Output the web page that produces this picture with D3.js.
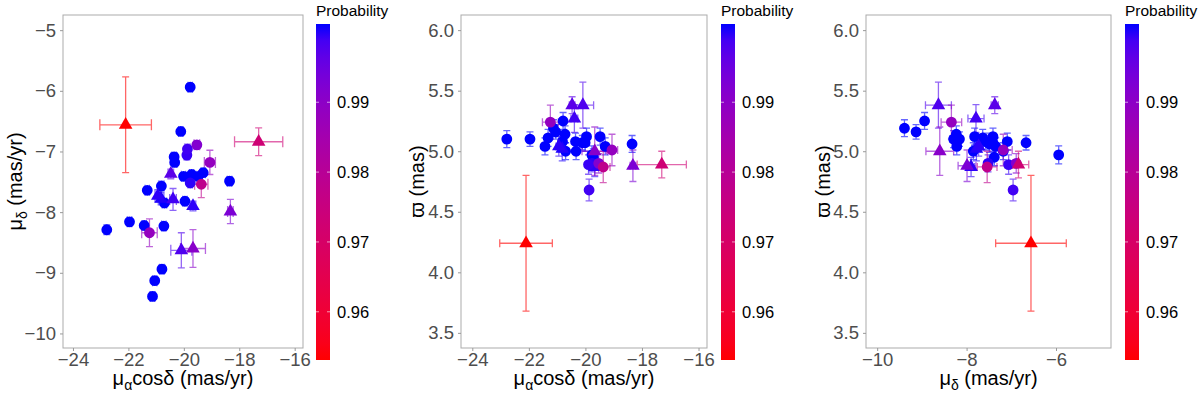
<!DOCTYPE html>
<html>
<head>
<meta charset="utf-8">
<script src="https://cdn.jsdelivr.net/npm/d3@7"></script>
<style>
  body { margin: 0; background: #fff; }
  text { font-family: "Liberation Sans", Arial, Helvetica, sans-serif; }
</style>
</head>
<body>
<svg width="1200" height="395"></svg>
<script>
// star values (same stars in all three panels)
const pmra     = [-19.77,-20.11,-19.53,-19.87,-19.89,-20.35,-20.33,-19.06,-20.47,-20.01,-19.72,-19.48,-19.30,-19.77,-19.37,-18.35,-21.32,-20.81,-20.94,-20.82,-20.70,-20.39,-19.96,-19.67,-18.32,-22.78,-21.96,-21.43,-21.24,-20.72,-20.09,-19.67,-20.79,-21.05,-21.13,-22.10,-17.30];
const pmraErr  = [0.08,0.08,0.10,0.08,0.08,0.08,0.08,0.20,0.10,0.08,0.08,0.08,0.08,0.08,0.24,0.08,0.08,0.08,0.10,0.10,0.08,0.12,0.08,0.10,0.10,0.08,0.08,0.08,0.28,0.08,0.38,0.45,0.08,0.08,0.08,0.93,0.87];
const pmdec    = [-5.94,-6.67,-6.89,-6.96,-7.06,-7.09,-7.18,-7.18,-7.37,-7.41,-7.38,-7.41,-7.35,-7.52,-7.54,-7.49,-7.64,-7.57,-7.73,-7.78,-7.85,-7.79,-7.82,-7.90,-7.99,-8.29,-8.16,-8.22,-8.34,-8.23,-8.63,-8.60,-8.94,-9.13,-9.39,-6.56,-6.84];
const pmdecErr = [0.06,0.06,0.07,0.08,0.08,0.07,0.07,0.20,0.08,0.06,0.06,0.06,0.06,0.06,0.22,0.07,0.06,0.08,0.10,0.10,0.06,0.18,0.06,0.08,0.20,0.08,0.06,0.06,0.23,0.06,0.29,0.31,0.07,0.06,0.07,0.79,0.23];
const plx      = [4.97,5.07,4.90,4.68,4.89,5.08,5.00,5.01,5.38,5.07,4.95,5.12,5.04,4.90,4.87,5.06,5.11,5.08,5.04,5.02,5.00,5.27,5.12,4.87,4.88,5.10,5.10,5.04,5.24,5.14,5.38,5.00,5.25,5.16,5.19,4.24,4.89];
const plxErr   = [0.075,0.06,0.08,0.09,0.08,0.07,0.07,0.13,0.07,0.07,0.07,0.07,0.07,0.07,0.13,0.07,0.07,0.07,0.08,0.10,0.07,0.115,0.07,0.08,0.13,0.07,0.06,0.07,0.14,0.07,0.19,0.20,0.07,0.06,0.07,0.56,0.11];
const prob     = [1.0,1.0,0.991,0.998,0.9985,1.0,1.0,0.988,0.996,1.0,1.0,1.0,1.0,0.999,0.978,1.0,1.0,1.0,0.999,0.9995,1.0,0.998,1.0,0.999,0.992,1.0,1.0,1.0,0.988,1.0,0.997,0.990,1.0,1.0,1.0,0.9543,0.973];
const shape    = ["o","o","o","o","o","o","o","o","^","o","o","o","o","o","o","o","o","o","^","^","o","^","o","^","^","o","o","o","o","o","^","^","o","o","o","^","^"];

const probTicks = [0.96, 0.97, 0.98, 0.99];
const pmraTicks = [-24, -22, -20, -18, -16];
const pmdecTicks = [-10, -9, -8, -7, -6, -5];
const pmdecTicksX = [-10, -8, -6];
const plxTicks = [3.5, 4.0, 4.5, 5.0, 5.5, 6.0];

const probMin = 0.9543, probMax = 1.0;

const stars = pmra.map((d, i) => ({
  pmra: d, pmraErr: pmraErr[i],
  pmdec: pmdec[i], pmdecErr: pmdecErr[i],
  plx: plx[i], plxErr: plxErr[i],
  prob: prob[i], shape: shape[i]
})).sort((a, b) => b.prob - a.prob);

const color = d3.scaleLinear()
  .domain([probMin, probMax])
  .range(["#ff0000", "#0000ff"])
  .interpolate(d3.interpolateLab);

const svg = d3.select("svg");
const plotTop = 15, plotBottom = 348;
const barTop = 24, barBottom = 360;

const panels = [
  { x: "pmra", y: "pmdec", left: 63, right: 303, xDom: [-24.36, -15.7], yDom: [-10.24, -4.75],
    xTicks: pmraTicks, yTicks: pmdecTicks, yFmt: d3.format("d"), xTitle: "pmra", yTitle: "pmdec",
    yTitleX: 15, cbX: 316, capV: 7, capH: 11 },
  { x: "pmra", y: "plx", left: 461, right: 707, xDom: [-24.4, -15.7], yDom: [3.375, 6.125],
    xTicks: pmraTicks, yTicks: plxTicks, yFmt: d3.format(".1f"), xTitle: "pmra", yTitle: "plx",
    yTitleX: 417, cbX: 721, capV: 7, capH: 8 },
  { x: "pmdec", y: "plx", left: 866, right: 1111, xDom: [-10.25, -4.77], yDom: [3.375, 6.125],
    xTicks: pmdecTicksX, yTicks: plxTicks, yFmt: d3.format(".1f"), xTitle: "pmdec", yTitle: "plx",
    yTitleX: 823, cbX: 1125, capV: 7, capH: 8 }
];

// axis titles with greek subscripts
function title(sel, kind) {
  if (kind === "pmra") {
    sel.append("tspan").text("μ");
    sel.append("tspan").attr("font-size", 14).attr("dy", 5).text("α");
    sel.append("tspan").attr("dy", -5).text("cosδ (mas/yr)");
  } else if (kind === "pmdec") {
    sel.append("tspan").text("μ");
    sel.append("tspan").attr("font-size", 14).attr("dy", 5).text("δ");
    sel.append("tspan").attr("dy", -5).text(" (mas/yr)");
  } else {
    sel.text("ϖ (mas)");
  }
}

// bar covers the limits, ticks sit half a bin in from each end (20 bins)
const halfBin = (barBottom - barTop) / 40;
const cbY = d3.scaleLinear().domain([probMin, probMax]).range([barBottom - halfBin, barTop + halfBin]);

const defs = svg.append("defs");
const grad = defs.append("linearGradient").attr("id", "probGrad")
  .attr("x1", 0).attr("y1", 1).attr("x2", 0).attr("y2", 0);
d3.range(0, 1.0001, 0.05).forEach(t => {
  grad.append("stop").attr("offset", t)
    .attr("stop-color", color(probMin + t * (probMax - probMin)));
});

panels.forEach(p => {
  const x = d3.scaleLinear().domain(p.xDom).range([p.left, p.right]);
  const y = d3.scaleLinear().domain(p.yDom).range([plotBottom, plotTop]);
  const g = svg.append("g");

  g.append("rect")
    .attr("x", p.left).attr("y", plotTop)
    .attr("width", p.right - p.left).attr("height", plotBottom - plotTop)
    .attr("fill", "#fff").attr("stroke", "#ababab").attr("stroke-width", 1);

  const xAxis = g.append("g").attr("transform", `translate(0,${plotBottom})`)
    .call(d3.axisBottom(x).tickValues(p.xTicks).tickFormat(d3.format("d")).tickSize(3).tickPadding(2));
  const yAxis = g.append("g").attr("transform", `translate(${p.left},0)`)
    .call(d3.axisLeft(y).tickValues(p.yTicks).tickFormat(p.yFmt).tickSize(3).tickPadding(4));
  [xAxis, yAxis].forEach(a => {
    a.select(".domain").remove();
    a.selectAll(".tick line").attr("stroke", "#999");
    a.selectAll(".tick text").attr("fill", "#4d4d4d").attr("font-size", 18.5)
      .attr("font-family", "'Liberation Sans', Arial, sans-serif");
  });

  g.append("text")
    .attr("x", (p.left + p.right) / 2).attr("y", 385)
    .attr("text-anchor", "middle").attr("font-size", 20).attr("fill", "#000")
    .call(title, p.xTitle);
  g.append("text")
    .attr("transform", `translate(${p.yTitleX},${(plotTop + plotBottom) / 2}) rotate(-90)`)
    .attr("dy", "0.35em")
    .attr("text-anchor", "middle").attr("font-size", 20).attr("fill", "#000")
    .call(title, p.yTitle);

  // error bars
  const eb = g.append("g").attr("fill", "none").attr("stroke-width", 1.3).attr("stroke-opacity", 0.6);
  stars.forEach(d => {
    const cx = x(d[p.x]), cy = y(d[p.y]);
    const ex = d[p.x + "Err"], ey = d[p.y + "Err"];
    const y0 = y(d[p.y] - ey), y1 = y(d[p.y] + ey);
    const x0 = x(d[p.x] - ex), x1 = x(d[p.x] + ex);
    const path = d3.path();
    path.moveTo(cx, y0); path.lineTo(cx, y1);
    path.moveTo(cx - p.capV / 2, y0); path.lineTo(cx + p.capV / 2, y0);
    path.moveTo(cx - p.capV / 2, y1); path.lineTo(cx + p.capV / 2, y1);
    path.moveTo(x0, cy); path.lineTo(x1, cy);
    path.moveTo(x0, cy - p.capH / 2); path.lineTo(x0, cy + p.capH / 2);
    path.moveTo(x1, cy - p.capH / 2); path.lineTo(x1, cy + p.capH / 2);
    eb.append("path").attr("d", path.toString()).attr("stroke", color(d.prob));
  });

  // points
  g.append("g").selectAll("path").data(stars).join("path")
    .attr("transform", d => `translate(${x(d[p.x])},${y(d[p.y])})`)
    .attr("d", d => d.shape === "^"
      ? d3.symbol(d3.symbolTriangle, 80)()
      : d3.symbol(d3.symbolCircle, 92)())
    .attr("fill", d => color(d.prob));

  // colour bar legend
  const cb = svg.append("g");
  cb.append("text").attr("x", p.cbX).attr("y", 16)
    .attr("font-size", 15.5).attr("fill", "#000").text("Probability");
  cb.append("rect").attr("x", p.cbX).attr("y", barTop)
    .attr("width", 14).attr("height", barBottom - barTop)
    .attr("fill", "url(#probGrad)");
  probTicks.forEach(t => {
    cb.append("line").attr("x1", p.cbX).attr("x2", p.cbX + 3)
      .attr("y1", cbY(t)).attr("y2", cbY(t)).attr("stroke", "#fff").attr("stroke-opacity", 0.6);
    cb.append("line").attr("x1", p.cbX + 11).attr("x2", p.cbX + 14)
      .attr("y1", cbY(t)).attr("y2", cbY(t)).attr("stroke", "#fff").attr("stroke-opacity", 0.6);
    cb.append("text").attr("x", p.cbX + 21).attr("y", cbY(t)).attr("dy", "0.36em")
      .attr("font-size", 16.5).attr("fill", "#000").text(d3.format(".2f")(t));
  });
});
</script>
</body>
</html>
